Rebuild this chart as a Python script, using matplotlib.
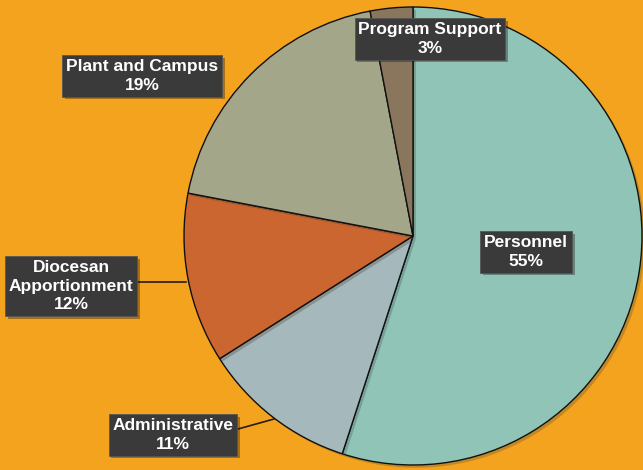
import matplotlib.pyplot as plt
import matplotlib.patheffects as pe
import matplotlib.transforms as mtrans

categories = ['Personnel', 'Administrative', 'Diocesan\nApportionment', 'Plant and Campus', 'Program Support']
values = [55, 11, 12, 19, 3]
colors = ['#8fc4b6', '#a5b9bd', '#cc6630', '#a3a688', '#8a765d']
# label box centres (pixels from top-left) and optional leader line ends
label_pos = [(526, 252), (173, 435), (71, 286), (142, 76), (430, 39)]
leaders = [None, ((238, 429), (274, 419)), ((137, 282), (186, 282)), None, None]

bg = '#f4a31f'
H = 470
fig = plt.figure(figsize=(6.43, 4.70), dpi=100, facecolor=bg)
ax = fig.add_axes([0, 0, 1, 1])

wedges, _ = ax.pie(values, colors=colors, startangle=90, counterclock=False,
                   center=(413, H - 236), radius=229, frame=True,
                   wedgeprops=dict(edgecolor='#111111', linewidth=1.0))
# pie is drawn in y-up coords; flip it into the inverted axis
flip = mtrans.Affine2D().scale(1, -1).translate(0, H)
for w in wedges:
    w.set_transform(flip + ax.transData)
    w.set_path_effects([pe.SimplePatchShadow(offset=(2, -2), alpha=0.25), pe.Normal()])
ax.set_xlim(0, 643)
ax.set_ylim(470, 0)
ax.set_aspect('equal')
ax.axis('off')

for cat, v, (x, y), ld in zip(categories, values, label_pos, leaders):
    if ld:
        ax.plot([ld[0][0], ld[1][0]], [ld[0][1], ld[1][1]], color='#2a1a10', lw=1.2, zorder=3)
    ax.text(x, y, f'{cat}\n{v}%', ha='center', va='center', color='white',
            fontsize=12.5, fontweight='bold', family='Liberation Sans', linespacing=1.3,
            zorder=5,
            bbox=dict(boxstyle='square,pad=0.22', facecolor='#3a3a3a', edgecolor='#555555',
                      linewidth=0.6,
                      path_effects=[pe.SimplePatchShadow(offset=(2, -2), alpha=0.35), pe.Normal()]))

fig.savefig('out.png', dpi=100, facecolor=bg)
